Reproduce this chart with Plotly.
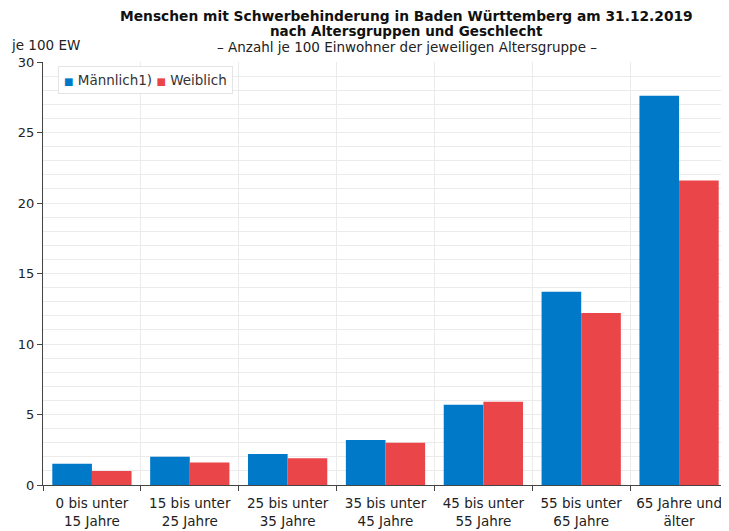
import plotly.graph_objects as go

# Altersgruppen (x categories)
age_groups = [
    "0 bis unter<br>15 Jahre",
    "15 bis unter<br>25 Jahre",
    "25 bis unter<br>35 Jahre",
    "35 bis unter<br>45 Jahre",
    "45 bis unter<br>55 Jahre",
    "55 bis unter<br>65 Jahre",
    "65 Jahre und<br>älter",
]

# je 100 Einwohner der Altersgruppe
maennlich = [1.5, 2.0, 2.2, 3.2, 5.7, 13.7, 27.6]
weiblich = [1.0, 1.6, 1.9, 3.0, 5.9, 12.2, 21.6]

y_ticks = [0, 5, 10, 15, 20, 25, 30]

FONT = "DejaVu Sans"
BLUE = "#0079c9"
RED = "#ea4548"
TEXT = "#333333"

fig = go.Figure()
fig.add_trace(go.Bar(name="Männlich1)", x=age_groups, y=maennlich,
                     marker=dict(color=BLUE, line=dict(width=0))))
fig.add_trace(go.Bar(name="Weiblich", x=age_groups, y=weiblich,
                     marker=dict(color=RED, line=dict(width=0))))

# legend drawn as a boxed annotation (small squares like the original)
legend_text = (
    f"<span style='color:{BLUE};font-size:10px'>■</span> Männlich1) "
    f"<span style='color:{RED};font-size:10px'>■</span> Weiblich"
)

# page body has an 8px margin, so the figure is 8px smaller than the window
fig.update_layout(
    width=721,
    height=523,
    margin=dict(l=35, r=1, t=54, b=46),
    paper_bgcolor="white",
    plot_bgcolor="white",
    barmode="group",
    bargap=0.19,
    bargroupgap=0,
    font=dict(family=FONT, size=13, color=TEXT),
    showlegend=False,
    annotations=[
        dict(text="<b>Menschen mit Schwerbehinderung in Baden Württemberg am 31.12.2019</b>",
             xref="paper", yref="paper", x=0.531, y=1.0, yshift=46,
             showarrow=False, font=dict(size=13.8, color="#111111"),
             xanchor="center", yanchor="middle"),
        dict(text="<b>nach Altersgruppen und Geschlecht</b>",
             xref="paper", yref="paper", x=0.531, y=1.0, yshift=31,
             showarrow=False, font=dict(size=13.5, color="#111111"),
             xanchor="center", yanchor="middle"),
        dict(text="– Anzahl je 100 Einwohner der jeweiligen Altersgruppe –",
             xref="paper", yref="paper", x=0.531, y=1.0, yshift=15,
             showarrow=False, font=dict(size=13.5, color="#222222"),
             xanchor="center", yanchor="middle"),
        dict(text="je 100 EW", xref="paper", yref="paper", x=0, y=1.0,
             xshift=-34, yshift=17, showarrow=False,
             font=dict(size=13.5, color="#222222"),
             xanchor="left", yanchor="middle"),
        dict(text=legend_text, xref="paper", yref="paper", x=0, y=1.0,
             xshift=15, yshift=-4, showarrow=False,
             font=dict(size=13.5, color=TEXT),
             xanchor="left", yanchor="top",
             bgcolor="white", bordercolor="#e4e4e4", borderwidth=1, borderpad=5),
    ],
)

fig.update_xaxes(
    type="category",
    tickson="boundaries",
    ticks="outside",
    ticklen=5,
    tickcolor="#444444",
    showline=True,
    linecolor="#444444",
    linewidth=1,
    showgrid=True,
    gridcolor="#ebebeb",
    gridwidth=1,
    ticklabelstandoff=6,
    tickfont=dict(size=13.5, color="#222222"),
)

fig.update_yaxes(
    range=[0, 30],
    tickvals=y_ticks,
    ticks="outside",
    ticklen=5,
    tickcolor="#444444",
    showline=True,
    linecolor="#444444",
    linewidth=1,
    showgrid=True,
    gridcolor="#ebebeb",
    zeroline=False,
    minor=dict(dtick=1, showgrid=True, gridcolor="#ebebeb", ticks=""),
    tickfont=dict(size=13, color="#222222"),
)

fig.write_html("out.html")
